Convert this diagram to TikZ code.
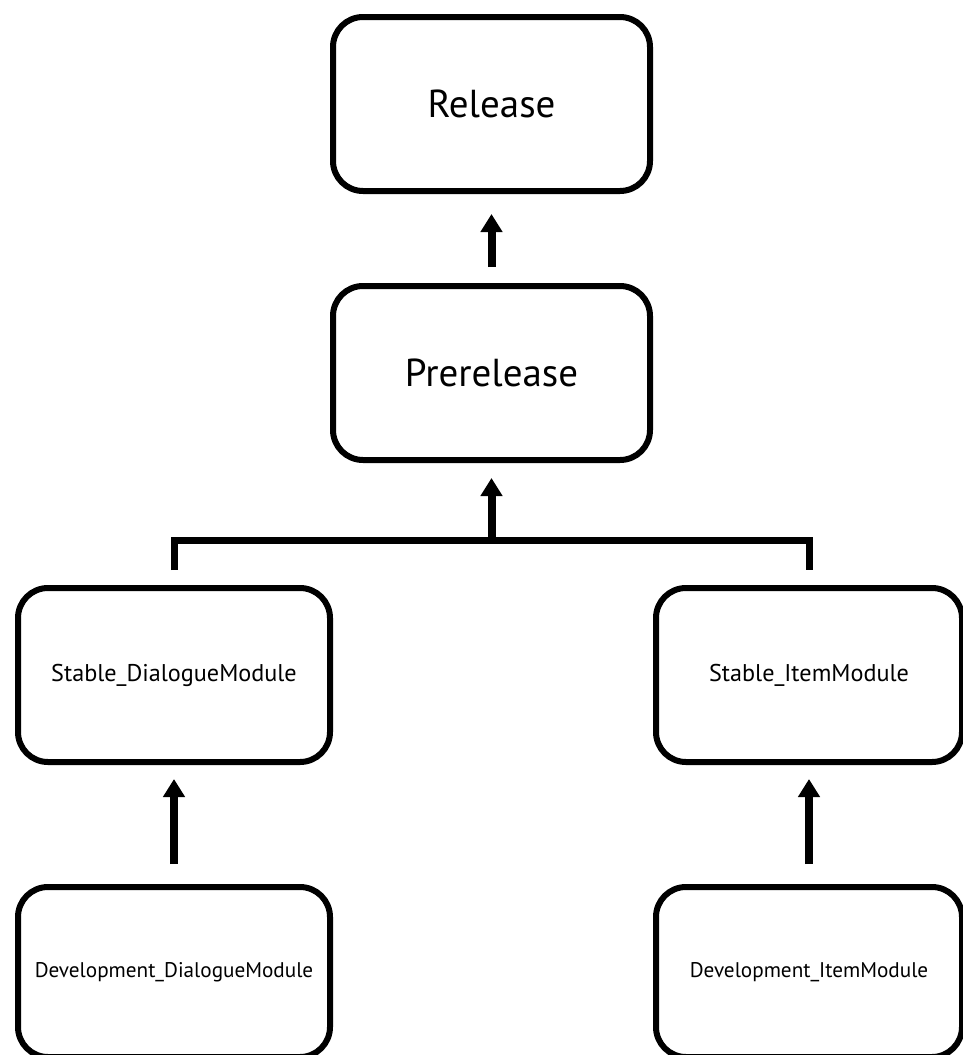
\documentclass[tikz,border=0pt]{standalone}
\usepackage{fontspec}
\setmainfont{PT Sans}
\usetikzlibrary{arrows.meta}
\begin{document}
\begin{tikzpicture}[x=1pt,y=-1pt,
  box/.style={draw=black, line width=6pt, rounded corners=30pt, fill=white,
    inner sep=0pt, align=center},
  bigbox/.style={box, minimum width=317pt, minimum height=174pt,
    font=\fontsize{39}{45}\selectfont},
  midbox/.style={box, minimum width=312pt, minimum height=174pt,
    font=\fontsize{24.2}{28}\selectfont},
  lowbox/.style={box, minimum width=312pt, minimum height=170pt,
    font=\fontsize{21.2}{25}\selectfont},
  arr/.style={line width=8pt, -{Triangle[length=18pt,width=21pt]}},
  bracket/.style={line width=7pt, line join=miter}]
\useasboundingbox (0,0) rectangle (963,1055);

\node[bigbox] (rel) at (491.5,104) {Release};
\node[bigbox] (pre) at (491.5,373) {Prerelease};

\node[midbox] (sd) at (174,675) {Stable\_DialogueModule};
\node[midbox, minimum width=306pt] (si) at (809,675) {Stable\_ItemModule};

\node[lowbox] (dd) at (174,972) {Development\_DialogueModule};
\node[lowbox, minimum width=306pt] (di) at (809,972) {Development\_ItemModule};

% prerelease feeds release
\draw[arr, shorten <=16pt, shorten >=20pt] (pre) -- (rel);

% both stable modules merge into prerelease
\path (pre.south) ++(0,77) coordinate (jn);
\draw[bracket] ([yshift=15pt]sd.north) -- (sd.north |- jn)
  -- (si.north |- jn) -- ([yshift=15pt]si.north);
\draw[arr, shorten <=-3.5pt, shorten >=15pt] (jn) -- (pre.south);

% development modules feed their stable modules
\draw[arr, shorten <=20pt, shorten >=14pt] (dd) -- (sd);
\draw[arr, shorten <=20pt, shorten >=14pt] (di) -- (si);
\end{tikzpicture}
\end{document}
